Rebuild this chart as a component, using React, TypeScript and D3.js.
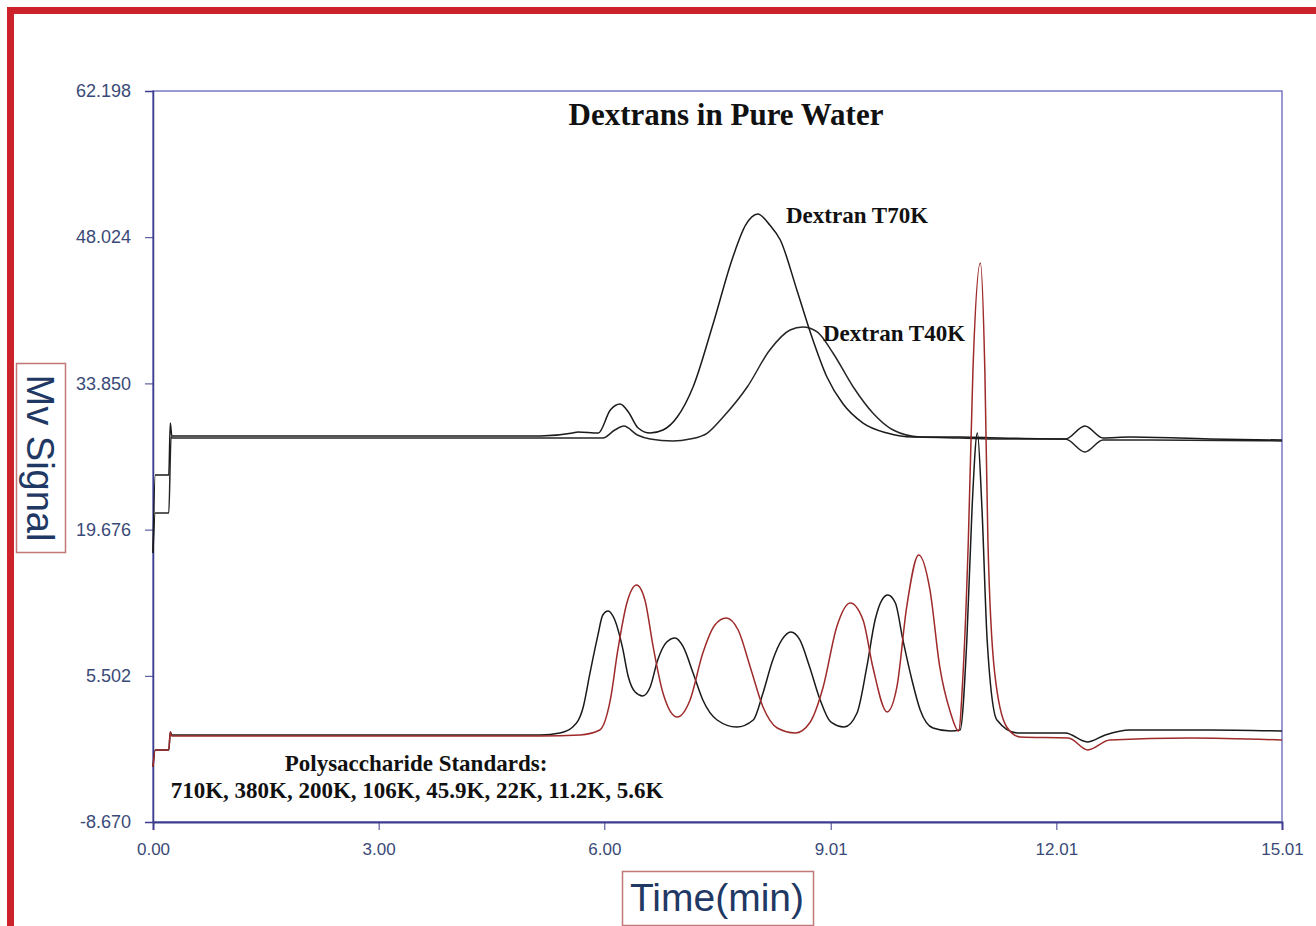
import { useEffect, useRef } from "react";
import * as d3 from "d3";

type Pt = [number, number];

// [time (min), signal (mV)]
const dextranT70K: Pt[] = [
  [0, 17.41], [0.03, 24.97], [0.21, 24.97], [0.23, 30.01], [0.25, 28.75],
  [5.15, 28.75], [5.58, 29.04], [5.65, 29.14], [5.92, 29.04], [6.08, 31.27],
  [6.21, 31.86], [6.32, 31.08], [6.45, 29.53], [6.61, 29.04], [6.78, 29.33],
  [6.97, 30.59], [7.18, 33.5], [7.45, 39.71], [7.71, 46.11], [7.88, 49.21],
  [8.04, 50.27], [8.2, 49.21], [8.34, 47.75], [8.56, 42.91], [8.76, 38.35],
  [8.96, 34.47], [9.17, 31.9], [9.44, 30.01], [9.76, 29.04], [10.1, 28.65],
  [10.73, 28.65], [11.26, 28.56], [12.13, 28.46], [12.39, 29.72], [12.63, 28.56],
  [12.99, 28.65], [14.05, 28.46], [15.01, 28.36],
];

const dextranT40K: Pt[] = [
  [0, 17.41], [0.03, 21.29], [0.21, 21.29], [0.24, 28.65], [0.26, 28.56],
  [5.15, 28.56], [5.98, 28.56], [6.14, 29.33], [6.26, 29.72], [6.44, 28.85],
  [6.61, 28.46], [6.91, 28.27], [7.14, 28.46], [7.37, 29.04], [7.58, 30.59],
  [7.9, 33.5], [8.2, 37.09], [8.47, 39.03], [8.64, 39.32], [8.83, 38.84],
  [9.04, 36.8], [9.31, 33.5], [9.57, 30.98], [9.84, 29.33], [10.2, 28.65],
  [10.73, 28.56], [11.26, 28.46], [12.13, 28.46], [12.39, 27.2], [12.63, 28.36],
  [13.26, 28.36], [15.01, 28.27],
];

// 710K, 200K, 45.9K, 11.2K (black)
const standardsA: Pt[] = [
  [0, -3.34], [0.03, -1.69], [0.21, -1.69], [0.23, 0.05], [0.25, -0.23],
  [5.15, -0.23], [5.41, -0.04], [5.58, 0.54], [5.72, 2.48], [5.81, 5.78],
  [5.91, 9.27], [5.98, 11.4], [6.05, 11.79], [6.14, 10.91], [6.24, 8.3],
  [6.32, 5.39], [6.41, 3.93], [6.51, 3.55], [6.61, 4.42], [6.71, 7.04],
  [6.83, 8.78], [6.94, 9.17], [7.05, 8.3], [7.18, 5.78], [7.31, 3.16],
  [7.5, 1.22], [7.76, 0.54], [7.98, 1.22], [8.11, 3.84], [8.24, 7.04],
  [8.36, 8.98], [8.48, 9.75], [8.6, 8.98], [8.73, 6.36], [8.87, 3.16],
  [9.01, 1.03], [9.19, 0.54], [9.36, 1.9], [9.49, 6.36], [9.6, 10.91],
  [9.69, 12.85], [9.77, 13.34], [9.87, 12.56], [9.97, 8.98], [10.09, 5.1],
  [10.2, 2.19], [10.37, 0.44], [10.6, 0.15], [10.73, 0.25], [10.82, 8.98],
  [10.89, 21.87], [10.96, 29.04], [11.02, 21.87], [11.09, 8.98], [11.22, 1.22],
  [11.49, -0.04], [12.13, -0.04], [12.42, -0.91], [12.66, -0.23], [12.99, 0.25],
  [14.05, 0.25], [15.01, 0.15],
];

// 380K, 106K, 22K, 5.6K (red)
const standardsB: Pt[] = [
  [0, -3.34], [0.03, -1.69], [0.21, -1.69], [0.23, 0.05], [0.25, -0.33],
  [5.15, -0.33], [5.68, -0.23], [5.94, 0.25], [6.08, 3.16], [6.18, 8.01],
  [6.3, 12.56], [6.43, 14.31], [6.54, 12.85], [6.65, 8.3], [6.78, 3.84],
  [6.97, 1.51], [7.14, 3.16], [7.31, 7.71], [7.47, 10.43], [7.62, 11.11],
  [7.78, 9.94], [7.94, 6.36], [8.11, 2.48], [8.3, 0.44], [8.54, -0.04],
  [8.73, 0.93], [8.91, 4.42], [9.09, 10.24], [9.27, 12.56], [9.44, 10.91],
  [9.57, 6.36], [9.76, 2.0], [9.89, 4.42], [10.02, 12.17], [10.18, 17.22],
  [10.33, 13.82], [10.46, 6.36], [10.6, 2.0], [10.71, 0.15], [10.77, 5.78],
  [10.84, 18.67], [10.9, 34.86], [11.0, 45.52], [11.06, 34.86], [11.1, 18.67],
  [11.19, 5.78], [11.35, 0.54], [11.53, -0.43], [12.17, -0.53], [12.43, -1.69],
  [12.72, -0.72], [13.79, -0.53], [15.01, -0.72],
];

const yTicks = [-8.67, 5.502, 19.676, 33.85, 48.024, 62.198];
const yTickLabels = ["-8.670", "5.502", "19.676", "33.850", "48.024", "62.198"];
const xTicks = [0, 3.0, 6.0, 9.01, 12.01, 15.01];
const xTickLabels = ["0.00", "3.00", "6.00", "9.01", "12.01", "15.01"];

const W = 1316;
const H = 926;

export default function App() {
  const svgRef = useRef<SVGSVGElement>(null);

  useEffect(() => {
    if (!svgRef.current) return;
    const svg = d3.select(svgRef.current);
    svg.selectAll("*").remove();

    const margin = { top: 91, right: W - 1282, bottom: H - 822, left: 153 };
    const chartW = W - margin.left - margin.right;
    const chartH = H - margin.top - margin.bottom;

    const x = d3.scaleLinear().domain([0, 15.01]).range([0, chartW]);
    const y = d3.scaleLinear().domain([-8.67, 62.198]).range([chartH, 0]);

    svg.append("rect").attr("width", W).attr("height", H).attr("fill", "#fff");

    // red page frame
    svg.append("path")
      .attr("d", `M10.5,${H} L10.5,10.5 L${W},10.5`)
      .attr("fill", "none")
      .attr("stroke", "#cc2229")
      .attr("stroke-width", 7);

    const g = svg.append("g").attr("transform", `translate(${margin.left},${margin.top})`);

    g.append("rect")
      .attr("width", chartW)
      .attr("height", chartH)
      .attr("fill", "none")
      .attr("stroke", "#7a7ac4")
      .attr("stroke-width", 1.5);

    const tickColor = "#3a4a78";
    const sans = "Liberation Sans, Arial, sans-serif";

    g.append("g")
      .attr("transform", `translate(0,${chartH})`)
      .call(
        d3.axisBottom(x)
          .tickValues(xTicks)
          .tickSize(8)
          .tickPadding(13)
          .tickFormat((_, i) => xTickLabels[i]),
      )
      .call((a) => a.select(".domain").attr("stroke", "#3c3c8c").attr("stroke-width", 2))
      .call((a) => a.selectAll(".tick line").attr("stroke", "#3c3c8c"))
      .call((a) =>
        a.selectAll(".tick text")
          .attr("fill", tickColor)
          .attr("font-size", "17px")
          .attr("font-family", sans),
      );

    g.append("g")
      .call(
        d3.axisLeft(y)
          .tickValues(yTicks)
          .tickSize(8)
          .tickPadding(14)
          .tickFormat((_, i) => yTickLabels[i]),
      )
      .call((a) => a.select(".domain").attr("stroke", "#3c3c8c").attr("stroke-width", 1.5))
      .call((a) => a.selectAll(".tick line").attr("stroke", "#3c3c8c"))
      .call((a) =>
        a.selectAll(".tick text")
          .attr("fill", tickColor)
          .attr("font-size", "18px")
          .attr("font-family", sans),
      );

    const line = d3
      .line<Pt>()
      .x((d) => x(d[0]))
      .y((d) => y(d[1]))
      .curve(d3.curveMonotoneX);

    const plot = g.append("g");
    const series: [Pt[], string][] = [
      [dextranT40K, "#262626"],
      [dextranT70K, "#1a1a1a"],
      [standardsA, "#1a1a1a"],
      [standardsB, "#9e2a2a"],
    ];
    series.forEach(([d, c]) => {
      plot.append("path")
        .datum(d)
        .attr("d", line)
        .attr("fill", "none")
        .attr("stroke", c)
        .attr("stroke-width", 1.5)
        .attr("stroke-linejoin", "round");
    });

    const serif = "Liberation Serif, Times New Roman, serif";
    const note = (txt: string, tx: number, ty: number, size: number, anchor = "start") =>
      svg.append("text")
        .attr("x", tx)
        .attr("y", ty)
        .attr("text-anchor", anchor)
        .attr("font-family", serif)
        .attr("font-weight", "bold")
        .attr("font-size", size)
        .attr("fill", "#111")
        .text(txt);

    note("Dextrans in Pure Water", 726, 125, 31, "middle");
    note("Dextran T70K", 786, 223, 23);
    note("Dextran T40K", 823, 341, 23);
    note("Polysaccharide Standards:", 416, 771, 23, "middle");
    note("710K, 380K, 200K, 106K, 45.9K, 22K, 11.2K, 5.6K", 417, 798, 23, "middle");

    // axis title boxes
    svg.append("rect")
      .attr("x", 16.5).attr("y", 363.5).attr("width", 49).attr("height", 189)
      .attr("fill", "#fff").attr("stroke", "#c07878").attr("stroke-width", 1.5);
    svg.append("text")
      .attr("transform", "translate(27,458) rotate(90)")
      .attr("text-anchor", "middle")
      .attr("font-family", sans)
      .attr("font-size", 38)
      .attr("fill", "#1f3864")
      .text("Mv Signal");

    svg.append("rect")
      .attr("x", 622.5).attr("y", 871.5).attr("width", 191).attr("height", 54)
      .attr("fill", "#fff").attr("stroke", "#c07878").attr("stroke-width", 1.5);
    svg.append("text")
      .attr("x", 717)
      .attr("y", 911)
      .attr("text-anchor", "middle")
      .attr("font-family", sans)
      .attr("font-size", 39)
      .attr("fill", "#1f3864")
      .text("Time(min)");
  }, []);

  return (
    <svg
      ref={svgRef}
      width={W}
      height={H}
      style={{ position: "absolute", left: 0, top: 0, display: "block" }}
      role="img"
      aria-label="Dextrans in Pure Water chromatogram"
    />
  );
}
